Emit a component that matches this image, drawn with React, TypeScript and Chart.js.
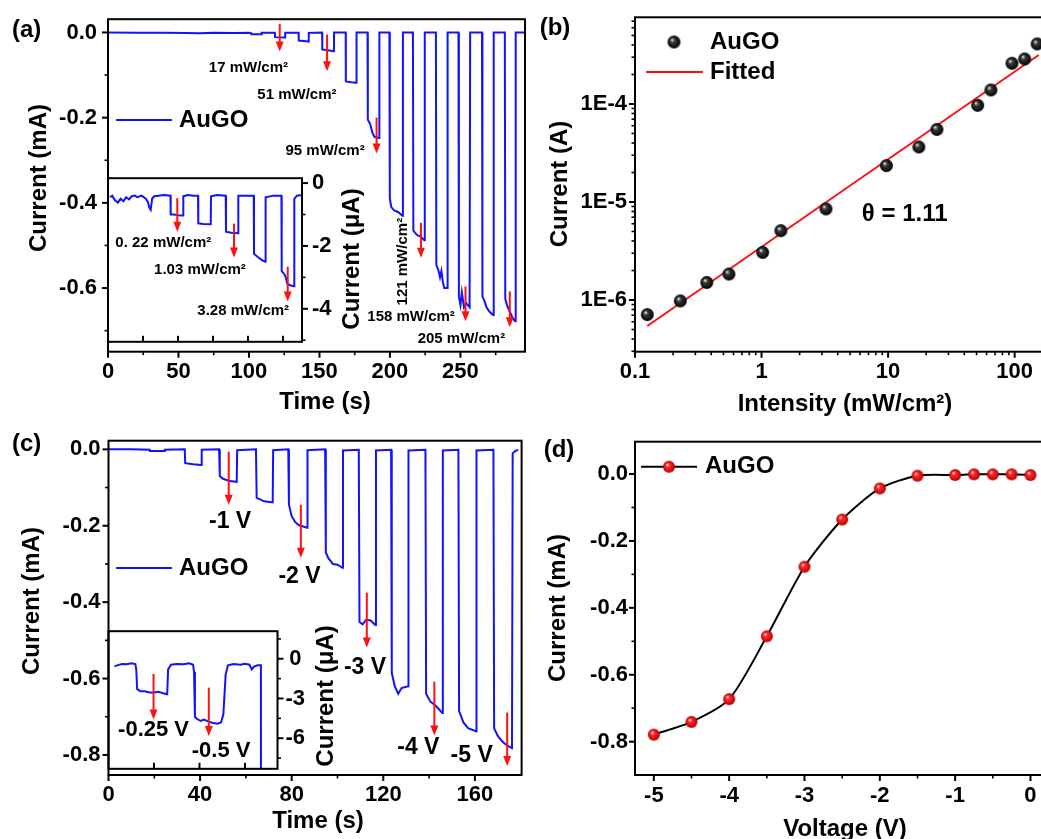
import React, { useEffect, useRef } from 'react';
import { Chart, registerables } from 'chart.js';

Chart.register(...registerables);

const SANS = '"Liberation Sans", Arial, Helvetica, sans-serif';
const BLUE = '#1212ff';
const RED = '#ff1111';

// ---------- Panel (a): main trace (time s, current mA)
const timeA = [0, 20, 40, 55, 65, 75, 90, 100, 101.7, 101.8, 108.9, 109, 118.4, 118.5, 125.6, 125.7, 135.2, 135.3, 142.3, 142.4, 151.9, 152, 156, 160.2, 160.3, 168.6, 168.7, 172.5, 176.2, 176.3, 184.1, 184.3, 186, 187.5, 189, 192.3, 192.5, 199.6, 199.9, 201, 203, 206, 208.8, 209.2, 216.3, 216.6, 219, 222, 224.3, 224.7, 232.6, 232.9, 234.5, 235.5, 236.5, 237.5, 238.5, 240.5, 240.9, 248.6, 248.9, 250, 251, 252.5, 254, 256.5, 256.9, 265.3, 265.6, 267, 268.5, 270.5, 273.2, 273.6, 281.5, 281.8, 283, 285, 287, 288.8, 289.2, 296];
const currentA = [0, -0.0005, -0.001, -0.0015, -0.002, -0.001, -0.0015, -0.001, -0.002, -0.004, -0.004, -0.001, -0.001, -0.011, -0.012, -0.001, -0.001, -0.019, -0.021, -0.001, 0, -0.04, -0.042, -0.044, 0, 0, -0.115, -0.117, -0.118, 0, 0, -0.205, -0.215, -0.235, -0.245, -0.248, 0, 0, -0.39, -0.41, -0.418, -0.422, -0.43, 0, 0, -0.465, -0.475, -0.48, -0.488, 0, 0, -0.545, -0.56, -0.575, -0.56, -0.585, -0.6, -0.6, 0, 0, -0.62, -0.64, -0.61, -0.645, -0.635, -0.645, 0, 0, -0.62, -0.63, -0.645, -0.655, -0.663, 0, 0, -0.625, -0.64, -0.655, -0.67, -0.678, 0, 0];
const timeTicksA = [0, 50, 100, 150, 200, 250];
const timeMinorA = [25, 75, 125, 175, 225, 275];
const currentTicksA = [0, -0.2, -0.4, -0.6];
const currentMinorA = [-0.1, -0.3, -0.5, -0.7];
const arrowTimeA = [121.8, 155.4, 190.5, 222, 253.6, 285];
const arrowTopA = [0.02, -0.005, -0.2, -0.447, -0.596, -0.608];
const arrowTipA = [-0.045, -0.091, -0.284, -0.529, -0.678, -0.692];
const labelTextA = ['17 mW/cm²', '51 mW/cm²', '95 mW/cm²', '121 mW/cm²', '158 mW/cm²', '205 mW/cm²'];
const labelTimeA = [99.6, 134, 154, 209.2, 215, 250.7];
const labelCurrentA = [-0.084, -0.147, -0.277, -0.538, -0.668, -0.719];
const labelRotA = [0, 0, 0, -90, 0, 0];

// ---------- Panel (a) inset (time s, current µA)
const timeIA = [1.4, 3, 5, 7, 9, 11, 13, 15, 17, 19, 21, 24, 27, 28.5, 29.5, 30.5, 31.5, 33, 36, 40, 44.6, 44.8, 47, 50, 53.6, 53.8, 57, 61, 64.3, 64.5, 68, 73.4, 73.6, 78, 84.1, 84.3, 88, 92.9, 93.1, 98, 104.1, 104.3, 107, 110, 112.4, 112.6, 118, 123.9, 124.1, 126, 127, 128, 130, 132.9, 133.1, 135, 138.4];
const currentIA = [-0.45, -0.4, -0.55, -0.62, -0.5, -0.58, -0.45, -0.52, -0.42, -0.4, -0.45, -0.4, -0.5, -0.6, -0.78, -0.85, -0.5, -0.42, -0.4, -0.38, -0.4, -1.0, -1.0, -1.02, -1.03, -0.42, -0.38, -0.4, -0.4, -1.28, -1.3, -1.31, -0.42, -0.38, -0.4, -1.55, -1.58, -1.6, -0.4, -0.4, -0.4, -2.25, -2.35, -2.45, -2.5, -0.45, -0.4, -0.4, -2.8, -2.9, -3.0, -3.2, -3.25, -3.28, -0.5, -0.4, -0.38];
const timeTicksIA = [0, 25, 50, 75, 100, 125];
const currentTicksIA = [0, -2, -4];
const currentMinorIA = [-1, -3, -5];
const arrowTimeIA = [49.5, 90, 128.4];
const arrowTopIA = [-0.48, -1.29, -2.66];
const arrowTipIA = [-1.55, -2.37, -3.77];
const labelTextIA = ['0. 22 mW/cm²', '1.03 mW/cm²', '3.28 mW/cm²'];
const labelTimeIA = [39.5, 65.7, 96.6];
const labelCurrentIA = [-1.9, -2.76, -4.06];

// ---------- Panel (b): current vs intensity (log-log)
const intensityB = [0.125, 0.228, 0.369, 0.552, 1.02, 1.42, 3.23, 9.7, 17.5, 24.3, 51, 64.9, 95.2, 120, 150.6];
const currentB = [7.1e-7, 9.8e-7, 1.51e-6, 1.84e-6, 3.06e-6, 5.1e-6, 8.5e-6, 2.35e-5, 3.64e-5, 5.5e-5, 9.7e-5, 1.39e-4, 2.6e-4, 2.88e-4, 4.1e-4];
const fitIntensityB = [0.125, 155];
const fitCurrentB = [5.43e-7, 3.16e-4];
const intensityTicksB = [0.1, 1, 10, 100];
const intensityMinorB = [0.2, 0.3, 0.4, 0.5, 0.6, 0.7, 0.8, 0.9, 2, 3, 4, 5, 6, 7, 8, 9, 20, 30, 40, 50, 60, 70, 80, 90];
const currentTicksB = [1e-6, 1e-5, 1e-4];
const currentMinorB = [3e-7, 4e-7, 5e-7, 6e-7, 7e-7, 8e-7, 9e-7, 2e-6, 3e-6, 4e-6, 5e-6, 6e-6, 7e-6, 8e-6, 9e-6, 2e-5, 3e-5, 4e-5, 5e-5, 6e-5, 7e-5, 8e-5, 9e-5, 2e-4, 3e-4, 4e-4, 5e-4, 6e-4, 7e-4];

// ---------- Panel (c): main trace (time s, current mA)
const timeC = [0, 10, 18, 18.1, 24.5, 24.6, 33.3, 33.5, 37, 40.5, 40.7, 48.3, 48.6, 50, 53, 56, 56.2, 64.4, 64.7, 68, 71.7, 71.9, 78.5, 78.8, 80, 81.5, 83, 86.7, 86.9, 94.6, 94.9, 96, 98, 100, 102.2, 102.4, 109.3, 109.6, 111, 112.5, 114.5, 116.5, 116.8, 123.4, 123.7, 125, 126.5, 128, 130.8, 131, 138.4, 138.7, 140.5, 143, 145.8, 146, 152.8, 153.1, 155, 157, 160.5, 160.7, 168.1, 168.4, 170, 172, 174, 176.2, 176.5, 178, 179];
const currentC = [0, 0, -0.001, -0.004, -0.004, -0.001, 0, -0.036, -0.039, -0.041, -0.001, 0, -0.07, -0.077, -0.083, -0.085, -0.002, 0, -0.127, -0.136, -0.139, -0.002, 0, -0.145, -0.175, -0.19, -0.198, -0.205, -0.002, 0, -0.27, -0.285, -0.3, -0.302, -0.31, -0.003, -0.001, -0.452, -0.458, -0.446, -0.448, -0.46, -0.003, -0.001, -0.585, -0.62, -0.64, -0.625, -0.62, -0.003, -0.001, -0.64, -0.66, -0.672, -0.69, -0.003, -0.001, -0.685, -0.715, -0.73, -0.738, -0.003, -0.001, -0.73, -0.75, -0.765, -0.775, -0.782, -0.01, -0.003, -0.002];
const timeTicksC = [0, 40, 80, 120, 160];
const timeMinorC = [20, 60, 100, 140];
const currentTicksC = [0, -0.2, -0.4, -0.6, -0.8];
const currentMinorC = [-0.1, -0.3, -0.5, -0.7];
const arrowTimeC = [52.5, 84, 112.8, 142.3, 174.1];
const arrowTopC = [-0.006, -0.145, -0.375, -0.608, -0.689];
const arrowTipC = [-0.145, -0.284, -0.519, -0.749, -0.829];
const labelTextC = ['-1 V', '-2 V', '-3 V', '-4 V', '-5 V'];
const labelTimeC = [53.1, 83.4, 112, 135.3, 158.6];
const labelCurrentC = [-0.189, -0.333, -0.571, -0.78, -0.803];

// ---------- Panel (c) inset (time s, current µA)
const timeIC = [2.6, 4.5, 6, 8, 10, 11.8, 12.2, 12.6, 14, 16, 18, 20, 22, 24, 25.8, 26.2, 27.5, 30, 33, 35.5, 37.2, 37.6, 38, 39, 40.5, 42, 44, 46, 48, 49.5, 50.5, 51.5, 52.5, 55, 58, 60, 62, 63, 64, 65.5, 67, 67.1];
const currentIC = [-0.58, -0.46, -0.4, -0.42, -0.35, -0.4, -0.8, -2.3, -2.45, -2.45, -2.55, -2.55, -2.5, -2.6, -2.68, -0.8, -0.45, -0.4, -0.42, -0.35, -0.45, -1.0, -4.4, -4.55, -4.7, -4.6, -4.75, -4.85, -4.9, -4.8, -4.2, -1.2, -0.5, -0.4, -0.45, -0.38, -0.45, -0.8, -0.6, -0.5, -0.5, -30];
const timeTicksIC = [20, 40, 60];
const currentTicksIC = [0, -3, -6];
const currentMinorIC = [1.5, -1.5, -4.5, -7.5];
const arrowTimeIC = [19.8, 44.1];
const arrowTopIC = [-1.15, -2.18];
const arrowTipIC = [-4.58, -5.84];
const labelTextIC = ['-0.25 V', '-0.5 V'];
const labelTimeIC = [19.8, 49.5];
const labelCurrentIC = [-5.38, -6.98];

// ---------- Panel (d): current vs voltage
const voltageD = [-5, -4.5, -4, -3.5, -3, -2.5, -2, -1.5, -1, -0.75, -0.5, -0.25, 0];
const currentD = [-0.779, -0.741, -0.673, -0.485, -0.277, -0.136, -0.043, -0.005, -0.003, -0.001, -0.001, -0.001, -0.003];
const voltageTicksD = [-5, -4, -3, -2, -1, 0];
const voltageMinorD = [-4.5, -3.5, -2.5, -1.5, -0.5];
const currentTicksD = [0, -0.2, -0.4, -0.6, -0.8];
const currentMinorD = [-0.1, -0.3, -0.5, -0.7];

// ---------------------------------------------------------------
const TICK_SIZE = 22;
const pts = (xs: number[], ys: number[]) => xs.map((x, i) => ({ x, y: ys[i] }));
const fmt1 = (v: number) => (Math.abs(v) < 1e-9 ? '0.0' : v.toFixed(1));
const fmtInt = (v: number) => String(Math.round(v) || 0);
const fmtLogX = (v: number) => (v < 1 ? String(v) : String(Math.round(v)));
const fmtLogY = (v: number) => '1E' + Math.round(Math.log10(v));

const font = (size: number, fam = SANS, weight = 'bold') => `${weight} ${size}px ${fam}`;

function sphere(r: number, hi: string, mid: string, dark: string): HTMLCanvasElement {
  const c = document.createElement('canvas');
  const s = Math.ceil(r * 2 + 2);
  c.width = s;
  c.height = s;
  const g = c.getContext('2d')!;
  const cx = s / 2;
  const cy = s / 2;
  const grad = g.createRadialGradient(cx - r * 0.3, cy - r * 0.35, r * 0.05, cx, cy, r);
  grad.addColorStop(0, hi);
  grad.addColorStop(0.3, mid);
  grad.addColorStop(1, dark);
  g.fillStyle = grad;
  g.beginPath();
  g.arc(cx, cy, r, 0, Math.PI * 2);
  g.fill();
  return c;
}

type AxisOpt = {
  type?: string; position?: string; min: number; max: number; major: number[];
  fmt: (v: number) => string; fit: number; pad: number; horizontal: boolean;
  display?: boolean; crossAlign?: string; size?: number;
};
function axis(o: AxisOpt): any {
  return {
    type: o.type ?? 'linear',
    position: o.position ?? (o.horizontal ? 'bottom' : 'left'),
    display: o.display ?? true,
    min: o.min,
    max: o.max,
    bounds: 'data',
    afterBuildTicks: (s: any) => { s.ticks = o.major.map((v) => ({ value: v })); },
    afterFit: (s: any) => { if (o.horizontal) s.height = o.fit; else s.width = o.fit; },
    grid: { display: true, drawOnChartArea: false, drawTicks: true, tickLength: 5, color: 'rgba(0,0,0,0)', tickColor: 'rgba(0,0,0,0)' },
    border: { display: false },
    ticks: {
      display: true, color: '#000', font: { family: SANS, size: o.size ?? TICK_SIZE, weight: 'bold' },
      padding: o.pad, autoSkip: false, maxRotation: 0, minRotation: 0,
      crossAlign: o.crossAlign ?? 'near', callback: (v: any) => o.fmt(Number(v)),
    },
  };
}

type TickSpec = { axis: 'x' | 'y'; side: 'bottom' | 'left' | 'right'; major: number[]; minor: number[]; inward?: boolean };
type TextItem = { x: number; y: number; text: string; font: string; align?: CanvasTextAlign; rot?: number };
type LegendItem = { x1: number; x2: number; y: number; color?: string; marker?: HTMLCanvasElement; mx?: number; text: string; tx: number };
type Deco = {
  ticks: TickSpec[];
  arrows?: { x: number[]; top: number[]; tip: number[] };
  texts?: TextItem[];
  pxTexts?: TextItem[];
  legend?: LegendItem[];
};

function drawText(ctx: CanvasRenderingContext2D, x: number, y: number, t: TextItem) {
  ctx.save();
  ctx.translate(x, y);
  if (t.rot) ctx.rotate((t.rot * Math.PI) / 180);
  ctx.font = t.font;
  ctx.fillStyle = '#000';
  ctx.textAlign = t.align ?? 'center';
  ctx.textBaseline = 'middle';
  ctx.fillText(t.text, 0, 0);
  ctx.restore();
}

function deco(d: Deco) {
  return {
    id: 'deco',
    afterDraw(chart: any) {
      const ctx: CanvasRenderingContext2D = chart.ctx;
      const ca = chart.chartArea;
      const xs = chart.scales.x;
      const ys = chart.scales.y;
      ctx.save();
      if (d.arrows) {
        const a = d.arrows;
        ctx.strokeStyle = RED;
        ctx.fillStyle = RED;
        ctx.lineWidth = 2;
        a.x.forEach((xv, i) => {
          const px = xs.getPixelForValue(xv);
          const p1 = ys.getPixelForValue(a.top[i]);
          const p2 = ys.getPixelForValue(a.tip[i]);
          const head = 10;
          const hw = 4;
          ctx.beginPath();
          ctx.moveTo(px, p1);
          ctx.lineTo(px, p2 - head + 1);
          ctx.stroke();
          ctx.beginPath();
          ctx.moveTo(px - hw, p2 - head);
          ctx.lineTo(px + hw, p2 - head);
          ctx.lineTo(px, p2);
          ctx.closePath();
          ctx.fill();
        });
      }
      for (const t of d.texts ?? []) drawText(ctx, xs.getPixelForValue(t.x), ys.getPixelForValue(t.y), t);
      for (const t of d.pxTexts ?? []) drawText(ctx, t.x, t.y, t);
      for (const l of d.legend ?? []) {
        if (l.x2 > l.x1) {
          ctx.strokeStyle = l.color ?? '#000';
          ctx.lineWidth = 2;
          ctx.beginPath();
          ctx.moveTo(l.x1, l.y);
          ctx.lineTo(l.x2, l.y);
          ctx.stroke();
        }
        if (l.marker) ctx.drawImage(l.marker, (l.mx ?? 0) - l.marker.width / 2, l.y - l.marker.height / 2);
        drawText(ctx, l.tx, l.y, { x: 0, y: 0, text: l.text, font: font(24), align: 'left' });
      }
      // frame
      ctx.strokeStyle = '#000';
      ctx.lineWidth = 2;
      ctx.strokeRect(ca.left, ca.top, ca.right - ca.left, ca.bottom - ca.top);
      // tick marks
      for (const s of d.ticks) {
        const sc = chart.scales[s.axis];
        const mark = (v: number, len: number) => {
          const p = sc.getPixelForValue(v);
          ctx.beginPath();
          if (s.side === 'bottom') {
            if (p < ca.left - 1 || p > ca.right + 1) return;
            const dir = s.inward ? -1 : 1;
            ctx.moveTo(p, ca.bottom);
            ctx.lineTo(p, ca.bottom + dir * len);
          } else {
            if (p < ca.top - 1 || p > ca.bottom + 1) return;
            const x0 = s.side === 'left' ? ca.left : ca.right;
            const dir = (s.side === 'left' ? -1 : 1) * (s.inward ? -1 : 1);
            ctx.moveTo(x0, p);
            ctx.lineTo(x0 + dir * len, p);
          }
          ctx.stroke();
        };
        ctx.lineWidth = 2;
        s.major.forEach((v) => mark(v, 6));
        ctx.lineWidth = 1.6;
        s.minor.forEach((v) => mark(v, 3.5));
      }
      ctx.restore();
    },
  };
}

const baseOptions = (padding: any, scales: any) => ({
  responsive: false,
  animation: false,
  devicePixelRatio: 1,
  events: [],
  layout: { padding },
  plugins: { legend: { display: false }, tooltip: { enabled: false } },
  scales,
});

const dataTexts = (xs: number[], ys: number[], texts: string[], f: string, rots?: number[]): TextItem[] =>
  texts.map((text, i) => ({ x: xs[i], y: ys[i], text, font: f, rot: rots ? rots[i] : 0 }));

// ---------- configs
function configA() {
  return {
    type: 'scatter',
    data: { datasets: [{ data: pts(timeA, currentA), showLine: true, borderColor: BLUE, borderWidth: 2, pointRadius: 0, tension: 0 }] },
    options: baseOptions({ left: 0, top: 17.3, right: 7, bottom: 0 }, {
      x: axis({ min: 0, max: 295.8, major: timeTicksA, fmt: fmtInt, fit: 68.3, pad: 2, horizontal: true }),
      y: axis({ min: -0.7494, max: 0.0311, major: currentTicksA, fmt: fmt1, fit: 108, pad: 6, horizontal: false }),
    }),
    plugins: [deco({
      ticks: [
        { axis: 'x', side: 'bottom', major: timeTicksA, minor: timeMinorA },
        { axis: 'y', side: 'left', major: currentTicksA, minor: currentMinorA },
      ],
      arrows: { x: arrowTimeA, top: arrowTopA, tip: arrowTipA },
      texts: dataTexts(labelTimeA, labelCurrentA, labelTextA, font(15), labelRotA),
      pxTexts: [
        { x: 26.7, y: 30, text: '(a)', font: font(24) },
        { x: 39, y: 178, text: 'Current (mA)', font: font(24), rot: -90 },
        { x: 325, y: 402, text: 'Time (s)', font: font(24) },
      ],
      legend: [{ x1: 116, x2: 172, y: 120, color: BLUE, text: 'AuGO', tx: 179 }],
    })],
  };
}

function configIA() {
  return {
    type: 'scatter',
    data: { datasets: [{ data: pts(timeIA, currentIA), showLine: true, borderColor: BLUE, borderWidth: 2, pointRadius: 0, tension: 0 }] },
    options: baseOptions({ left: 8, top: 13, right: 0, bottom: 8.3 }, {
      x: axis({ min: 0, max: 138.6, major: timeTicksIA, fmt: fmtInt, fit: 0, pad: 0, horizontal: true, display: false }),
      y: axis({ position: 'right', min: -5.05, max: 0.155, major: currentTicksIA, fmt: fmtInt, fit: 78, pad: 5, horizontal: false }),
    }),
    plugins: [deco({
      ticks: [
        { axis: 'x', side: 'bottom', major: timeTicksIA, minor: [], inward: true },
        { axis: 'y', side: 'right', major: currentTicksIA, minor: currentMinorIA },
      ],
      arrows: { x: arrowTimeIA, top: arrowTopIA, tip: arrowTipIA },
      texts: dataTexts(labelTimeIA, labelCurrentIA, labelTextIA, font(15)),
      pxTexts: [{ x: 252.5, y: 99, text: 'Current (μA)', font: font(24), rot: -90 }],
    })],
  };
}

function configB() {
  const ball = sphere(6.5, '#e8e8e8', '#3a3a3a', '#000000');
  return {
    type: 'scatter',
    data: {
      datasets: [
        { data: pts(intensityB, currentB), pointStyle: ball, pointRadius: 6.5, showLine: false },
        { data: pts(fitIntensityB, fitCurrentB), showLine: true, borderColor: RED, borderWidth: 2, pointRadius: 0 },
      ],
    },
    options: baseOptions({ left: 0, top: 17.3, right: 5, bottom: 0 }, {
      x: axis({ type: 'logarithmic', min: 0.1, max: 166, major: intensityTicksB, fmt: fmtLogX, fit: 68.3, pad: 2, horizontal: true }),
      y: axis({ type: 'logarithmic', min: 2.97e-7, max: 7.66e-4, major: currentTicksB, fmt: fmtLogY, fit: 105, pad: 3, horizontal: false }),
    }),
    plugins: [deco({
      ticks: [
        { axis: 'x', side: 'bottom', major: intensityTicksB, minor: intensityMinorB },
        { axis: 'y', side: 'left', major: currentTicksB, minor: currentMinorB },
      ],
      texts: [{ x: 6.2, y: 7.4e-6, text: 'θ = 1.11', font: font(24), align: 'left' }],
      pxTexts: [
        { x: 25, y: 28, text: '(b)', font: font(24) },
        { x: 30, y: 184, text: 'Current (A)', font: font(24), rot: -90 },
        { x: 315, y: 404, text: 'Intensity (mW/cm²)', font: font(24) },
      ],
      legend: [
        { x1: 0, x2: 0, y: 42, marker: ball, mx: 144, text: 'AuGO', tx: 180 },
        { x1: 116, x2: 173, y: 72, color: RED, text: 'Fitted', tx: 180 },
      ],
    })],
  };
}

function configC() {
  return {
    type: 'scatter',
    data: { datasets: [{ data: pts(timeC, currentC), showLine: true, borderColor: BLUE, borderWidth: 2, pointRadius: 0, tension: 0 }] },
    options: baseOptions({ left: 0, top: 20.7, right: 10.4, bottom: 0 }, {
      x: axis({ min: 0, max: 180.4, major: timeTicksC, fmt: fmtInt, fit: 75, pad: 2, horizontal: true }),
      y: axis({ min: -0.8525, max: 0.0227, major: currentTicksC, fmt: fmt1, fit: 108.5, pad: 3, horizontal: false }),
    }),
    plugins: [deco({
      ticks: [
        { axis: 'x', side: 'bottom', major: timeTicksC, minor: timeMinorC },
        { axis: 'y', side: 'left', major: currentTicksC, minor: currentMinorC },
      ],
      arrows: { x: arrowTimeC, top: arrowTopC, tip: arrowTipC },
      texts: dataTexts(labelTimeC, labelCurrentC, labelTextC, font(23)),
      pxTexts: [
        { x: 26.7, y: 24, text: '(c)', font: font(24) },
        { x: 32.5, y: 181, text: 'Current (mA)', font: font(24), rot: -90 },
        { x: 318, y: 401, text: 'Time (s)', font: font(24) },
      ],
      legend: [{ x1: 116, x2: 172, y: 148, color: BLUE, text: 'AuGO', tx: 179 }],
    })],
  };
}

function configIC() {
  return {
    type: 'scatter',
    data: { datasets: [{ data: pts(timeIC, currentIC), showLine: true, borderColor: BLUE, borderWidth: 2, pointRadius: 0, tension: 0 }] },
    options: baseOptions({ left: 8.5, top: 10, right: 0, bottom: 10 }, {
      x: axis({ min: 0, max: 74.3, major: timeTicksIC, fmt: fmtInt, fit: 0, pad: 0, horizontal: true, display: false }),
      y: axis({ position: 'right', min: -8.31, max: 2.08, major: currentTicksIC, fmt: fmtInt, fit: 82.5, pad: 3, horizontal: false, crossAlign: 'center' }),
    }),
    plugins: [deco({
      ticks: [
        { axis: 'x', side: 'bottom', major: timeTicksIC, minor: [], inward: true },
        { axis: 'y', side: 'right', major: currentTicksIC, minor: currentMinorIC },
      ],
      arrows: { x: arrowTimeIC, top: arrowTopIC, tip: arrowTipIC },
      texts: dataTexts(labelTimeIC, labelCurrentIC, labelTextIC, font(22)),
      pxTexts: [{ x: 226, y: 81, text: 'Current (μA)', font: font(24), rot: -90 }],
    })],
  };
}

function configD() {
  const ball = sphere(6, '#ffe0e0', '#ff2a2a', '#b80000');
  return {
    type: 'scatter',
    data: {
      datasets: [{
        data: pts(voltageD, currentD), showLine: true, borderColor: '#000', borderWidth: 2,
        pointStyle: ball, pointRadius: 6, tension: 0.25,
      }],
    },
    options: baseOptions({ left: 0, top: 21.7, right: 5, bottom: 0 }, {
      x: axis({ min: -5.25, max: 0.153, major: voltageTicksD, fmt: fmtInt, fit: 75, pad: 3, horizontal: true }),
      y: axis({ min: -0.8996, max: 0.0966, major: currentTicksD, fmt: fmt1, fit: 105, pad: 2, horizontal: false }),
    }),
    plugins: [deco({
      ticks: [
        { axis: 'x', side: 'bottom', major: voltageTicksD, minor: voltageMinorD },
        { axis: 'y', side: 'left', major: currentTicksD, minor: currentMinorD },
      ],
      pxTexts: [
        { x: 29, y: 30, text: '(d)', font: font(24) },
        { x: 28, y: 188, text: 'Current (mA)', font: font(24), rot: -90 },
        { x: 315, y: 409, text: 'Voltage (V)', font: font(24) },
      ],
      legend: [{ x1: 111, x2: 167, y: 46.7, color: '#000', marker: ball, mx: 139, text: 'AuGO', tx: 175 }],
    })],
  };
}

function ChartBox(props: { left: number; top: number; width: number; height: number; build: () => any }) {
  const ref = useRef<HTMLCanvasElement>(null);
  useEffect(() => {
    const chart = new Chart(ref.current as HTMLCanvasElement, props.build());
    return () => chart.destroy();
  }, []);
  const { left, top, width, height } = props;
  return (
    <canvas
      ref={ref}
      width={width}
      height={height}
      style={{ position: 'absolute', left, top, width, height, display: 'block' }}
    />
  );
}

export default function App() {
  return (
    <div style={{ position: 'absolute', left: 0, top: 0, width: 1041, height: 839, overflow: 'hidden', background: '#fff' }}>
      <ChartBox left={0} top={0} width={532} height={420} build={configA} />
      <ChartBox left={530} top={0} width={520} height={420} build={configB} />
      <ChartBox left={0} top={420} width={532} height={430} build={configC} />
      <ChartBox left={530} top={420} width={520} height={430} build={configD} />
      <ChartBox left={100} top={160} width={280} height={200} build={configIA} />
      <ChartBox left={100} top={615} width={260} height={170} build={configIC} />
    </div>
  );
}
